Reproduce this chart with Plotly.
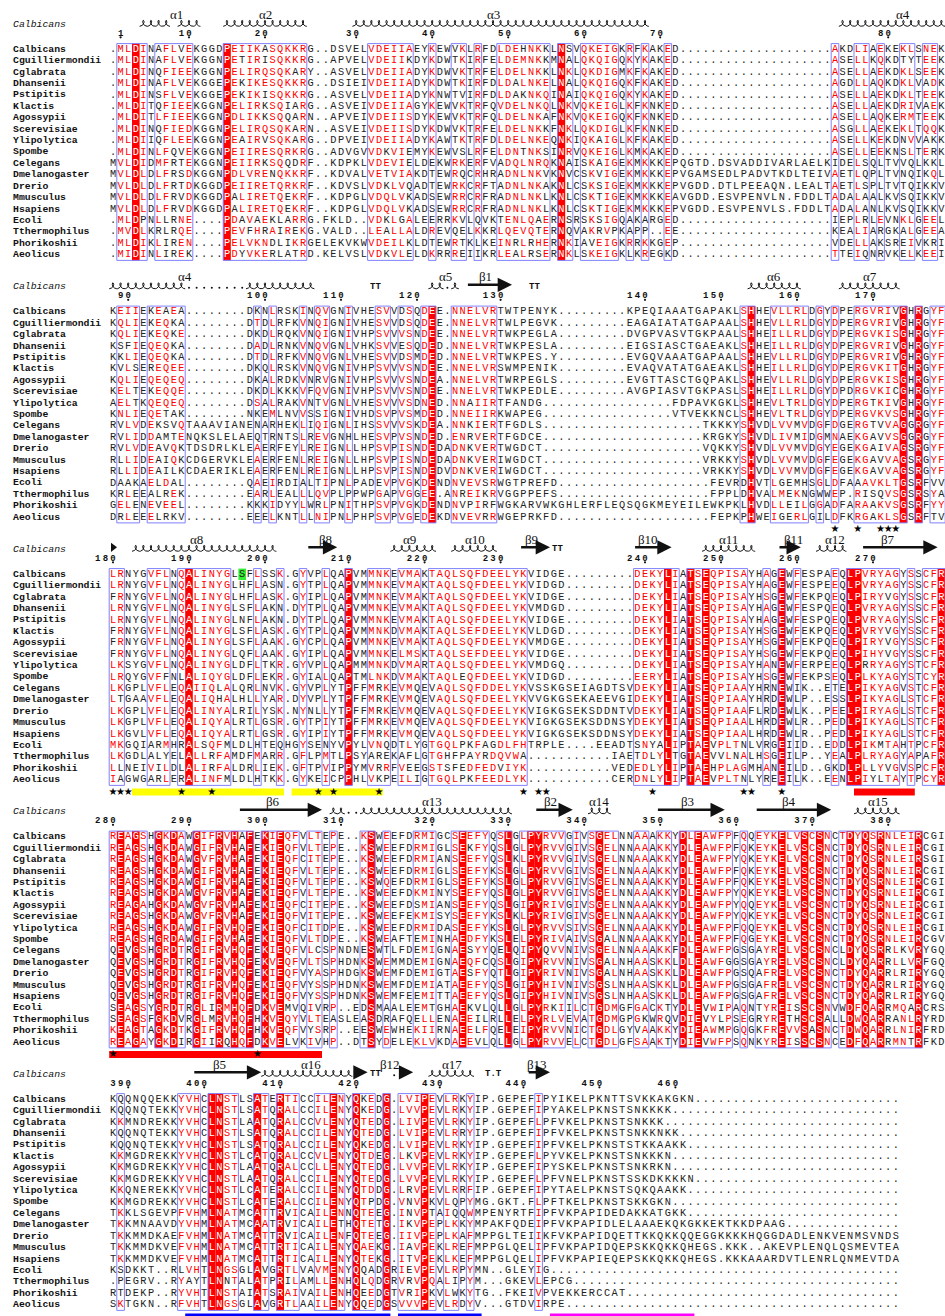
import plotly.graph_objects as go
from collections import Counter
import math

# ---------------- data ----------------
names = ["Calbicans", "Cguilliermondii", "Cglabrata", "Dhansenii", "Pstipitis", "Klactis",
         "Agossypii", "Scerevisiae", "Ylipolytica", "Spombe", "Celegans", "Dmelanogaster",
         "Drerio", "Mmusculus", "Hsapiens", "Ecoli", "Tthermophilus", "Phorikoshii", "Aeolicus"]

G5 = "....."
G8 = G5 + "..."
G9 = G5 + "...."
G11 = G5 + G5 + "."
G17 = G5 + G5 + G5 + ".."
G20 = G5 + G5 + G5 + G5
G21 = G20 + "."

block1 = [
    ".MLDINAFLVEKGGDPEIIKASQKKRG..DSVELVDEIIAEYKEWVK" + "LRFDLDEHNKKLNSVQKEIGKRFKAKED" + G20 + "AKDLIAEKEKLSNEK",
    ".MLDINAFLVEKGGNPETIRISQKKRG..APVELVDEIIKDYKDWTK" + "IRFELDEMNKKMNALQKQIGQKYKAKED" + G20 + "ASELLKQKDTYTEEK",
    ".MLDINQFIEEKGGNPELIRQSQKARY..ASVELVDEIIADYKDWVK" + "TRFELDELNKKLNKLQKDIGMKFKAKED" + G20 + "ASELLAEKDKLSEEK",
    ".MLDINAFLVEKGGEPEKIKESQKKRG..DSIEIVDEIIADYKDWTK" + "IRFDLDALNKELNALQKQIGQKFKAKED" + G20 + "AGDLLAQKDKLVADK",
    ".MLDINSFLVEKGGEPEKIKISQKKRG..ASVELVDEIIADYKNWTV" + "IRFDLDAKNKQINAIQKQIGQKYKAKED" + G20 + "ASELLAEKDKLTEEK",
    ".MLDITQFIEEKGGNPELIRKSQIARG..ASVEIVDEIIAGYKEWVK" + "TRFQVDELNKQLNKVQKEIGLKFKNKED" + G20 + "ASELLAEKDRIVAEK",
    ".MLDITLFIEEKGGNPDLIKKSQQARN..APVEIVDEIISDYKEWVK" + "TRFQLDELNKAFNKVQKEIGQKFKNKED" + G20 + "ASELLAQKERMTEEK",
    ".MLDINQFIEDKGGNPELIRQSQKARN..ASVEIVDEIISDYKDWVK" + "TRFELDELNKKFNKLQKDIGLKFKNKED" + G20 + "ASGLLAEKEKLTQQK",
    ".MLDIIQFLEEKGGNPEAIRVSQKARG..DPVEIVDEIIADYKAWTK" + "TRFDLDELNKEQNKIQKAIGLKFKAKED" + G20 + "ASELLKEKDNVVAKK",
    ".MLDINLFQVEKGGNPEIIRESQRKRG..ADVGVVDKVIEMYKEWVS" + "LRFELDNTNKSINRVQKEIGLKMKAKED" + G20 + "ASELLEEKNSLTERK",
    "MVLDIDMFRTEKGGNPEIIRKSQQDRF..KDPKLVDEVIELDEKWRK" + "ERFVADQLNRQKNAISKAIGEKMKKKEPQGTD.DSVADDIVARLAELKIDELSQLTVVQLKKL",
    "MVLDLDLFRSDKGGNPDLVRENQKKRF..KDVALVETVIAKDTEWRQ" + "CRHRADNLNKVKNVCSKVIGEKMKKKEPVGAMSEDLPADVTKDLTEIVAETLQPLTVNQIKQL",
    "MVLDLDLFRTDKGGDPEIIRETQRKRF..KDVSLVDKLVQADTEWRK" + "CRFTADNLNKAKNLCSKSIGEKMKKKEPVGDD.DTLPEEAQN.LEALTAETLSPLTVTQIKKV",
    "MVLDLDLFRVDKGGDPALIRETQEKRF..KDPGLVDQLVKADSEWRR" + "CRFRADNLNKLKNLCSKTIGEKMKKKEAVGDD.ESVPENVLN.FDDLTADALAALKVSQIKKV",
    "MVLDLDLFRVDKGGDPALIRETQEKRF..KDPGLVDQLVKADSEWRR" + "CRFRADNLNKLKNLCSKTIGEKMKKKEPVGDD.ESVPENVLS.FDDLTADALANLKVSQIKKV",
    ".MLDPNLLRNE....PDAVAEKLARRG.FKLD..VDKLGALEERRKV" + "LQVKTENLQAERNSRSKSIGQAKARGED" + G20 + "IEPLRLEVNKLGEEL",
    ".MVDLKRLRQE....PEVFHRAIREKG.VALD..LEALLALDREVQE" + "LKKRLQEVQTERNQVAKRVPKAPP..EE" + G20 + "KEALIARGKALGEEA",
    ".MLDIKLIREN....PELVKNDLIKRGELEKVKWVDEILKLDTEWRT" + "KLKEINRLRHERNKIAVEIGKRRKKGEP" + G20 + "VDELLAKSREIVKRI",
    ".MIDINLIREK....PDYVKERLATRD.KELVSLVDKVLELDKRRRE" + "IIKRLEALRSERNKLSKEIGKLKREGKD" + G20 + "TTEIQNRVKELKEEI",
]

block2 = [
    "KEIIEKEAEA" + G8 + "DKNLRSKINQVGNIVHESVVDSQDEE.NN" + "ELVRTWTPENYK" + G9 + "KPEQIAAATGAPAKLSHHEVLLRLDGYDPERGVRIVGHRGYF",
    "KQLIEKEQKA" + G8 + "DTDLRFKVNQIGNIVHESVVDSQDEE.NN" + "ELVRTWLPEGVK" + G9 + "EAGAIATATGAPAALSHHEVLLRLDGYDPERGVRIVGHRGYF",
    "KQLIEKEQKE" + G8 + "DKDLRQKVNQIGNIVHPSVVVSNDEE.NN" + "ELVRTWKPEGLA" + G9 + "DVGPVASVTGKPAALSHHEILLRLDGYDPERGVKISGHRGYF",
    "KSFIEQEQKA" + G8 + "DADLRNKVNQVGNLVHKSVVESQDED.NN" + "ELVRTWKPESLA" + G9 + "EIGSIASCTGAEAKLSHHEILLRLDGYDPERGVRIVGHRGYF",
    "KKLIEQEQKA" + G8 + "DTDLRFKVNQVGNLVHESVVDSMDED.NN" + "ELVRTWKPES.Y" + G9 + "EVGQVAAATGAPAALSHHEVLLRLDGYDPERGVRIVGHRGYF",
    "KVLSEREQEE" + G8 + "DKQLRSKVNQVGNIVHPSVVVSNDEE.NN" + "ELVRSWMPENIK" + G9 + "EVAQVATATGAEAKLSHHEILLRLDGYDPERGVKITGHRGYF",
    "KQLIEQEQEQ" + G8 + "DKALRDKVNRVGNIVHPSVVVSNDEA.NN" + "ELVRTWRPEGLS" + G9 + "EVGTTASCTGQPAKLSHHEVLLRLDGYDPERGVKISGHRGYF",
    "KELTEKEQQE" + G8 + "DKDLKKKVFQVGNIVHPSVVVSNDEE.NN" + "ELVRTWKPEDLE" + G9 + "AVGPIASVTGKPASLSHHEILLRLDGYDPDRGVKICGHRGYF",
    "AELTKQEQEQ" + G8 + "DSALRAKVNTVGNLVHESVVVSDNED.NN" + "AIIRTFANDG" + G17 + "FDPAVKGKLSHHEVLTRLDGYDPERGTKIVGHRGYF",
    "KNLIEQETAK" + G8 + "NKEMLNVVSSIGNIVHDSVPVSMDED.NN" + "EIIRKWAPEG" + G17 + "VTVEKKNCLSHHEVLTRLDGYDPERGVKVSGHRGYF",
    "RVLVDEKSVQTAAAVIANENARHEKLIQIGNLIHSSVVVSKDEA.NN" + "KIERTFGDLS" + G21 + "TKKKYSHVDLVVMVDGFDGERGTVVAGGRGYF",
    "RVLIDDAMTENQKSLELAEQTRNTSLREVGNHLHESVPVSNDED.EN" + "RVERTFGDCE" + G21 + "KRGKYSHVDLIVMIDGMNAEKGAVVSGGRGYF",
    "RVLVDEAVQKTDSDRLKLEAERFEYLREIGNLLHPSVPISNDEDADN" + "KVERTWGDCT" + G21 + "VQKKYSHVDLVVMVDGYEGEKGAIVAGSRGYF",
    "RLLIDEAIQKCDGERVKLEAERFENLREIGNLLHPSVPISNDEDADN" + "KVERIWGDCT" + G21 + "VRKKYSHVDLVVMVDGFEGEKGAVVAGSRGYF",
    "RLLIDEAILKCDAERIKLEAERFENLREIGNLLHPSVPISNDEDVDN" + "KVERIWGDCT" + G21 + "VRKKYSHVDLVVMVDGFEGEKGAVVAGSRGYF",
    "DAAKAELDAL" + G8 + "QAEIRDIALTIPNLPADEVPVGKDENDNV" + "EVSRWGTPREFD" + G20 + "FEVRDHVTLGEMHSGLDFAAAVKLTGSRFVV",
    "KRLEEALREK" + G8 + "EARLEALLLQVPLPPWPGAPVGGEE.ANR" + "EIKRVGGPPEFS" + G20 + "FPPLDHVALMEKNGWWEP.RISQVSGSRSYA",
    "GELENEVEEL" + G8 + "KKKIDYYLWRLPNITHPSVPVGKDENDNV" + "PIRFWGKARVWKGHLERFLEQSQGKMEYEILEWKPKLHVDLLEILGGADFARAAKVSGSRFYY",
    "DRLEEELRKV" + G8 + "EEELKNTLLNIPNLPHPSVPVGEDEKDNV" + "EVRRWGEPRKFD" + G20 + "FEPKPHWEIGERLGILDFKRGAKLSGSRFTV",
]

block3 = [
    "LRNYGVFLNQALINYGLSFLSSK.GYVPLQAPVMMNKEVMAKTAQLS" + "QFDEELYKVIDGE" + G9 + "DEKYLIATSEQPISAYHAGEWFESPAEQLPVRYAGYSSCFR",
    "LRNYGVFLNQALINYGLHFLASN.GYTPLQAPVMMNKEVMAKTAQLS" + "QFDEELYKVIDGD" + G9 + "DEKYLIATSEQPISAYHAGEWFESPEEQLPVRYAGYSSCFR",
    "FRNYGVFLNQALINYGLHFLASK.GYIPLQAPVMMNKEVMAKTAQLS" + "QFDEELYKVIDGE" + G9 + "DEKYLIATSEQPISAYHSGEWFEKPQEQLPIRYVGYSSCFR",
    "LRNYGVFLNQALINYGLSFLAKN.DYTPLQAPVMMNKEVMAKTAQLS" + "QFDEELYKVMDGD" + G9 + "DEKYLIATSEQPISAYHAGEWFESPQEQLPVRYAGYSSCFR",
    "LRNYGVFLNQALINYGLNFLAKN.DYTPLQAPVMMNKEVMAKTAQLS" + "QFDEELYKVIDGE" + G9 + "DEKYLIATSEQPISAYHAGEWFESPQEQLPVRYAGYSSCFR",
    "FRNYGVFLNQALINYGLSFLASK.GYTPLQAPVMMNKDVMAKTAQLS" + "EFDEELYKVLDGD" + G9 + "DEKYLIATSEQPISAYHSGEWFEKPQEQLPVRYVGYSSCFR",
    "FRNYGVFLNQALINYGLSFLAAK.GYCPLQAPVMMNKEVMAKTAQLS" + "QFDEELYKVMDGE" + G9 + "DEKYLIATSEQPISAYHSGEWFEKPQEQLPIRYVGYSSCFR",
    "FRNYGVFLNQALINYGLQFLAAK.GYIPLQAPVMMNKELMSKTAQLS" + "EFDEELYKVIDGE" + G9 + "DEKYLIATSEQPISAYHSGEWFEKPQEQLPIHYVGYSSCFR",
    "LKSYGVFLNQALINYGLDFLTKR.GYVPLQAPMMMNKDVMARTAQLS" + "QFDEELYKVMDGQ" + G9 + "DEKYLIATSEQPISAYHANEWFERPEEQLPRRYAGYSTCFR",
    "LRQYGVFFNLALIQYGLDFLEKR.GYIALQAPTMLNKDVMAKTAQLE" + "QFDEELYKVIDGD" + G9 + "EERYLIATSEQPISAYHSGEWFEKPSEQLPLKYAGYSTCYR",
    "LKGPLVFLEQAIIQLALQRLNVK.GYVPLYTPFFMRKEVMQEVAQLS" + "QFDDELYKVSSKGSEIAGDTSVDEKYLIATSEQPIAAYHRNEWIK..ETELPIKYAGVSTCFR",
    "LTGAAVFLEQALIQHALHLLYAR.DYVPLYTPFFMRKEVMQEVAQLS" + "QFDEELYKVVGKGSEKAEEVGIDEKYLIATSEQPIAAYHRDEWLP..ESSLPIKYAGLSTCFR",
    "LKGPLVFLEQALINYALRILYSK.NYNLLYTPFFMRKEVMQEVAQLS" + "QFDEELYKVIGKGSEKSDDNTVDEKYLIATSEQPIAAFLRDEWLK..PEELPIRYAGLSTCFR",
    "LKGPLVFLEQALIQYALRTLGSR.GYTPIYTPFFMRKEVMQEVAQLS" + "QFDEELYKVIGKGSEKSDDNSYDEKYLIATSEQPIAALHRDEWLR..PEDLPIKYAGLSTCFR",
    "LKGVLVFLEQALIQYALRTLGSR.GYIPIYTPFFMRKEVMQEVAQLS" + "QFDEELYKVIGKGSEKSDDNSYDEKYLIATSEQPIAALHRDEWLR..PEDLPIKYAGLSTCFR",
    "MKGQIARMHRALSQFMLDLHTEQHGYSENYVPYLVNQDTLYGTGQLP" + "KFAGDLFHTRPLE....EEADTSNYALIPTAEVPLTNLVRGEIID..EDDLPIKMTAHTPCFR",
    "LKGDLALYELALLRFAMDFMARR.GFLPMTLPSYAREKAFLGTGHFP" + "AYRDQVWA" + G11 + "IAETDLYLTGTAEVVLNALHSGEILP..YEALPLRYAGYAPAFR",
    "LLNEIVILDLALIRFALDRLIEK.GFTPVIPPYMVRRFVEEGSTSFE" + "DFEDVIYK" + G11 + "VEDEDLYLIPTAEHPLAGMHANEILD..GKDLPLLYVGVSPCFR",
    "IAGWGARLERALINFMLDLHTKK.GYKEICPPHLVKPEILIGTGQLP" + "KFEEDLYK" + G11 + "CERDNLYLIPTAEVPLTNLYREEILK..EENLPIYLTAYTPCYR",
]

block4 = [
    "REAGSHGKDAWGIFRVHAFEKIEQFVLTEPE..KSWEEFDRMIGCSE" + "EFYQSLGLPYRVVGIVSGELNNAAAKKYDLEAWFPFQQEYKELVSCSNCTDYQSRNLEIRCGI",
    "REAGSHGKDAWGIFRVHAFEKIEQFVLTEPE..KSWEEFDRMIGLSE" + "KFYQSLGLPYRVVGIVSGELNNAAAKKYDLEAWFPFQKEYKELVSCSNCTDYQSRNLEIRCGI",
    "REAGSHGKDAWGVFRVHAFEKIEQFCITEPE..KSWEEFDRMIANSE" + "EFYQSLKLPYRVVGIVSGELNNAAAKKYDLEAWFPYQKEYKELVSCSNCTDYQSRNLEIRSGI",
    "REAGSHGKDAWGIFRVHAFEKIEQFVLTEPE..KSWEEFDRMIGLSE" + "EFYKSLGLPYRVVGIVSGELNNAAAKKYDLEAWFPFQKEYKELVSCSNCTDYQSRNLEIRCGI",
    "REAGSHGKDAWGIFRVHAFEKIEQFVLTEPE..KSWQEFDRMIGLSE" + "EFYKSLGLPYRVVGIVSGELNNAAAKKYDLEAWFPFQKEYKELVSCSNCTDYQSRNLEIRCGI",
    "REAGSHGKDAWGVFRVHAFEKIEQFVLTEPE..KSWEEFDKMINYSE" + "EFYQSLGLPYRVVGIVSGELNNAAAKKYDLEAWFPYQKEYKELVSCSNCTDYQSRNLEIRCGI",
    "REAGAHGKDAWGVFRVHAFEKIEQFCITEPE..KSWEEFDSMIANSE" + "EFYQSLGIPYRIVGIVSGELNNAAAKKYDLEAWFPYQQEYKELVSCSNCTDYQSRNLEIRCGI",
    "REAGSHGKDAWGVFRVHAFEKIEQFVITEPE..KSWEEFEKMISYSE" + "EFYKSLKLPYRIVGIVSGELNNAAAKKYDLEAWFPYQKEYKELVSCSNCTDYQSRNLEIRCGI",
    "REAGSHGKDAWGIFRVHQFEKIEQFCITDPE..KSWEEFDRMIDASE" + "EFYKSLGLPYRVVSIVSGELNNAAAKKYDLEAWFPFQQEYKELVSCSNCTDYQSRNLEIRCGI",
    "REAGSHGRDAWGIFRVHAFEKIEQFVLTDPE..KSWEAFTEMINHAE" + "DFYKSLELPYRIVAIVSGALNNAAAKKYDLEAWFPFQGEYKELVSCSNCTDYQSRNLEIRCGV",
    "QEVGSHGRDTRGIFRVHQFEKIEQFVLCSPNDNESWTLFDEMIGNAE" + "SYYQELQIPYQVVNIVSGELNNAAAKKFDLEAWFPGSGAYRELVSCSNCLDYQSRRLKVRYGQ",
    "QEVGSHGRDTRGIFRVHQFEKVEQFVLTSPHDNKSWEMMDEMIGNAE" + "QFCQSLGIPYRVVNIVSGALNHAASKKLDLEAWFGGSGAYRELVSCSNCLDYQARRLLVRFGQ",
    "QEVGSHGRDTRGIFRVHQFEKIEQFVYASPHDGKSWEMFDEMIGTAE" + "SFYQTLGIPYRIVNIVSGALNHAASKKLDLEAWFPGSQAFRELVSCSNCTDYQARRLRIRYGQ",
    "QEVGSHGRDTRGIFRVHQFEKIEQFVYSSPHDNKSWEMFDEMIATAE" + "EFYQSLGIPYHIVNIVSGSLNHAASKKLDLEAWFPGSGAFRELVSCSNCTDYQARRLRIRYGQ",
    "QEVGSHGRDTRGIFRVHQFEKIEQFVYSSPHDNKSWEMFEEMITTAE" + "EFYQSLGIPYHIVNIVSGSLNHAASKKLDLEAWFPGSGAFRELVSCSNCTDYQARRLRIRYGQ",
    "SEAGSYGRDTRGLIRMHQFDKVEMVQIVRP..EDSMAALEEMTGHAE" + "KVLQLLGLPYRKIILCTGDMGFGACKTYDLEVWIPAQNTYREISSCSNVWDFQARRMQARCRS",
    "SEAGSFGKDVRGLMRVHQFHKVEQYVLTEASLEASDRAFQELLENAE" + "EILRLLELPYRLVEVATGDMGPGKWRQVDIEVYLPSEGRYRETHSCSALLDWQARRANLRYRD",
    "KEAGTAGKDTKGIFRVHQFHKVEQFVYSRP..EESWEWHEKIIRNAE" + "ELFQELEIPYRVVNICTGDLGYVAAKKYDIEAWMPGQGKFREVVSASNCTDWQARRLNIRFRD",
    "REAGAYGKDIRGIIRQHQFDKVELVKIVHP..DTSYDELEKLVKDAE" + "EVLQLLGLPYRVVELCTGDLGFSAAKTYDIEVWFPSQNKYREISSCSNCEDFQARRMNTRFKD",
]

block5 = [
    "KQQNQQEKKYVHCLNSTLSATERTICCILENYQKEDG.LVIPEVLRK" + "YIP.GEPEFIPYIKELPKNTTSVKKAKGKN",
    "KQQNQTEKKYVHCLNSTLSATQRALCCILENYQKEDG.LVVPEVLRK" + "YIP.GEPEFIPYAKELPKNSTSNKKKK",
    "KKMNDREKKYVHCLNSTLAATQRALCCVLENYQTEDG.LIVPEVLRK" + "YIP.GEPEFLPFVKELPKNSTSNKKK",
    "KQQNQTEKKYVHCLNSTLSATQRALCCILENYQTEDG.LVIPEVLRR" + "YIP.GEPEFIPFVKELPKNSTSNKKNKK",
    "KQQNQTEKKYVHCLNSTLSATQRALCCILENYQKEDG.LVIPEVLRK" + "YIP.GEPEFIPFVKELPKNSTSTKKAAKK",
    "KKMGDREKKYVHCLNSTLCATQRALCCVLENYQTDEG.LKVPEVLRK" + "YIP.GEPEFLPYVKELPKNSTSNKKKN",
    "KKMGDREKKYVHCLNSTLAATQRALCCLLENYQTEDG.LVVPEVLRK" + "YIP.GEPEFIPYSKELPKNSTSNKRKN",
    "KKMGDREKKYVHCLNSTLAATQRALCCILENYQTEDG.LVVPEVLRK" + "YIP.GEPEFLPFVNELPKNSTSSKDKKKKN",
    "KKQNEREKKYVHCLNSTLCATERALCCILENYQTDDG.LRVPEVLRR" + "FIP.GEPEFIPYTAELPKNSTSQKQAAKK",
    "KKMGDREKKYVHCLNSTLCATERALCCILENYQTPDG.VNVPKVLQP" + "YMG.GKT.FLPFTKELPKNSTSKKGKN",
    "TKKLSGEVPFVHMLNATMCATTRVICAILENNQTEEG.INVPTAIQQ" + "WMPENYRTFIPFVKPAPIDEDAKKATGKK",
    "TKKMNAAVDYVHMLNATMCAATRVICAILETHQTETG.IKVPEPLKK" + "YMPAKFQDEIPFVKPAPIDLELAAAEKQKGKKEKTKKDPAAG",
    "TKKMMDKAEFVHMLNATMCATTRVICAILENFQTEEG.IIVPEPLKA" + "FMPPGLTEIIKFVKPAPIDQETTKKQKKQQEGGKKKKHQGGDADLENKVENMSVNDS",
    "TKKMMDKVEFVHMLNATMCATTRTICAILENYQAEKG.IAVPEKLRE" + "FMPPGLQELIPFVKPAPIDQEPSKKQKKQHEGS.KKK..AKEVPLENQLQSMEVTEA",
    "TKKMMDKVEFVHMLNATMCATTRTICAILENYQTEKG.ITVPEKLKE" + "FMPPGLQELIPFVKPAPIEQEPSKKQKKQHEGS.KKKAAARDVTLENRLQNMEVTDA",
    "KSDKKT..RLVHTLNGSGLAVGRTLVAVMENYQQADGRIEVPEVLRP" + "YMN..GLEYIG",
    ".PEGRV..RYAYTLNNTALATPRILAMLLENHQLQDGRVRVPQALIP" + "YM...GKEVLEPCG",
    "RTDEKP..RYVHTLNSTAIATSRAIVAILENHQEEDGTVRIPKVLWK" + "YTG..FKEIVPVEKKERCCAT",
    "SKTGKN..RFVHTLNGSGLAVGRTLAAILENYQQEDGSVVVPEVLRD" + "YV...GTDVIRPE",
]
block5 = [s.ljust(104, ".") for s in block5]

blocks = [block1, block2, block3, block4, block5]
block_widths = [110, 110, 110, 110, 104]

# similarity frames (first col, last col)
frames_1 = [(1, 4), (6, 10), (15, 25), (34, 39), (42, 42), (45, 46), (48, 48), (51, 57), (59, 60),
            (62, 66), (68, 68), (70, 70), (73, 73), (95, 95), (98, 99), (101, 101), (104, 105), (107, 108)]
frames_2 = [(1, 3), (5, 9), (19, 19), (21, 21), (25, 25), (27, 28), (31, 31), (35, 36), (38, 39),
            (41, 42), (45, 50), (83, 84), (87, 91), (93, 93), (95, 95), (98, 104), (106, 106), (108, 109)]
frames_3 = [(0, 1), (5, 7), (9, 15), (19, 19), (22, 22), (25, 25), (28, 28), (31, 31), (34, 36),
            (38, 40), (42, 54), (69, 74), (76, 83), (86, 86), (88, 88), (90, 90), (95, 95), (97, 103),
            (105, 105), (107, 109)]
frames_4 = [(0, 4), (6, 9), (11, 18), (20, 24), (26, 27), (29, 29), (33, 34), (36, 36), (40, 42),
            (45, 49), (51, 52), (54, 59), (61, 61), (63, 66), (69, 70), (72, 73), (75, 81), (83, 83),
            (85, 94), (96, 106)]
frames_5 = [(1, 1), (9, 11), (13, 16), (19, 20), (22, 24), (27, 30), (32, 34), (36, 36), (38, 42),
            (44, 45), (47, 47), (56, 56)]
frames = [frames_1, frames_2, frames_3, frames_4, frames_5]

# secondary structure (block index, first col, last col)
helix_segments = [(0, 4, 7), (0, 9, 11), (0, 15, 25), (0, 32, 70), (0, 96, 109),
                  (1, 0, 9), (1, 18, 26), (1, 42, 43), (1, 45, 45), (1, 84, 90), (1, 96, 103),
                  (2, 3, 21), (2, 37, 42), (2, 45, 50), (2, 78, 84), (2, 93, 96),
                  (3, 29, 30), (3, 33, 52), (3, 63, 65), (3, 98, 103),
                  (4, 20, 31), (4, 42, 47)]
ss_dots = [(1, 10, 17), (1, 44, 44), (3, 31, 32), (4, 37, 37)]
strands = [(1, 47, 52), (2, 26, 29), (2, 54, 57), (2, 69, 73), (2, 88, 90), (2, 99, 108),
           (3, 17, 27), (3, 56, 60), (3, 72, 80), (3, 85, 94),
           (4, 11, 19), (4, 32, 33), (4, 38, 39), (4, 55, 57)]
ss_labels = [(0, 8.4, "α1"), (0, 20, "α2"), (0, 50, "α3"), (0, 104, "α4"),
             (1, 9.5, "α4"), (1, 43.7, "α5"), (1, 49, "β1"), (1, 87, "α6"), (1, 99.6, "α7"),
             (2, 11, "α8"), (2, 28, "β8"), (2, 39, "α9"), (2, 47.6, "α10"), (2, 55, "β9"),
             (2, 70.4, "β10"), (2, 81, "α11"), (2, 89.5, "β11"), (2, 95, "α12"), (2, 102, "β7"),
             (3, 21, "β6"), (3, 42, "α13"), (3, 57.5, "β2"), (3, 64, "α14"), (3, 75.6, "β3"),
             (3, 89, "β4"), (3, 100.7, "α15"),
             (4, 14, "β5"), (4, 26, "α16"), (4, 36.4, "β12"), (4, 44.6, "α17"), (4, 55.8, "β13")]
turns = [(1, 34.5, "TT"), (1, 55.5, "TT"), (2, 58.5, "TT"), (4, 34.5, "TT"), (4, 50, "T.T")]

# markers under blocks
stars = [(1, 95), (1, 98), (1, 101), (1, 102), (1, 103),
         (2, 0), (2, 1), (2, 2), (2, 9), (2, 13), (2, 27), (2, 29), (2, 35), (2, 54), (2, 56),
         (2, 57), (2, 71), (2, 83), (2, 84), (2, 88),
         (3, 0), (3, 19)]
bars = [(2, 3, 22, "#FFFF00"), (2, 24, 35, "#FFFF00"), (2, 98, 105, "#FF0000"),
        (3, 0, 27, "#FF0000"),
        (4, 10, 36, "#0000FF"), (4, 38, 48, "#0000FF"), (4, 58, 76, "#FF00FF")]
green_cells = [(2, 0, 17)]

# ---------------- checks ----------------
for b, rows in enumerate(blocks):
    for r, s in enumerate(rows):
        if len(s) != block_widths[b]:
            raise ValueError(f"block {b+1} row {names[r]} length {len(s)} != {block_widths[b]}")

# ---------------- layout constants (page pixel units) ----------------
X0 = 113.0      # page x of alignment column 0
CW = 7.6        # column pitch
RH = 11.41      # row pitch
W, H = 945, 1316


def row0(b):
    return 49.3 + b * 262.5


GROUP = {}
for i, g in enumerate(["ILVM", "FYW", "KRH", "DENQ", "STAG", "P", "C"]):
    for ch in g:
        GROUP[ch] = i

RED = "#FF0000"
FRAME = "#8080FF"
BLACK = "#222222"

fig = go.Figure()
shapes = []

txt = {"k": ([], [], []), "r": ([], [], []), "w": ([], [], [])}
green_set = set(green_cells)

for b, rows in enumerate(blocks):
    y0 = row0(b)
    ytop = y0 - RH / 2
    ybot = y0 + 18 * RH + RH / 2
    in_frame = set()
    for (s, e) in frames[b]:
        for c in range(s, e + 1):
            in_frame.add(c)
    for c in range(block_widths[b]):
        col = [r[c] for r in rows]
        res = [ch for ch in col if ch != "."]
        identical = len(res) == len(col) and len(set(res)) == 1
        g = None
        if identical:
            shapes.append(dict(type="rect", xref="x", yref="y", x0=c - 0.5, x1=c + 0.5, y0=ytop, y1=ybot,
                               fillcolor=RED, line=dict(width=0), layer="below"))
        elif c in in_frame and res:
            g = Counter(GROUP.get(ch, -1) for ch in res).most_common(1)[0][0]
        for r, ch in enumerate(col):
            y = y0 + r * RH
            if (b, r, c) in green_set:
                shapes.append(dict(type="rect", xref="x", yref="y", x0=c - 0.5, x1=c + 0.5,
                                   y0=y - RH / 2, y1=y + RH / 2, fillcolor="#33EE33",
                                   line=dict(width=0), layer="below"))
                key = "k"
            elif identical:
                key = "w"
            elif g is not None and ch != "." and GROUP.get(ch, -2) == g:
                key = "r"
            else:
                key = "k"
            txt[key][0].append(c)
            txt[key][1].append(y)
            txt[key][2].append(ch)
    for (s, e) in frames[b]:
        shapes.append(dict(type="rect", xref="x", yref="y", x0=s - 0.5, x1=e + 0.5, y0=ytop, y1=ybot,
                           line=dict(color=FRAME, width=1), fillcolor="rgba(0,0,0,0)", layer="below"))

for key, color in (("k", BLACK), ("r", RED), ("w", "#FFFFFF")):
    xs, ys, ts = txt[key]
    fig.add_trace(go.Scatter(x=xs, y=ys, text=ts, mode="text", textposition="middle center",
                             textfont=dict(family="Liberation Mono", size=10.3, color=color),
                             hoverinfo="skip", showlegend=False, cliponaxis=False))

# names
annotations = []
name_x = (12 - X0) / CW
for b in range(5):
    y0 = row0(b)
    for r, nm in enumerate(names):
        annotations.append(dict(x=name_x, y=y0 + r * RH, xref="x", yref="y", text="<b>" + nm + "</b>",
                                showarrow=False, xanchor="left", yanchor="middle", borderpad=0,
                                font=dict(family="Liberation Mono", size=9.8, color="#111111")))
    annotations.append(dict(x=name_x, y=y0 - 25, xref="x", yref="y", text="<i>Calbicans</i>",
                            showarrow=False, xanchor="left", yanchor="middle", borderpad=0,
                            font=dict(family="Liberation Mono", size=9.8, color="#111111")))

# ruler from Calbicans numbering
dig_x, dig_y, dig_t, tick_x, tick_y = [], [], [], [], []
n = 0
for b, rows in enumerate(blocks):
    y0 = row0(b)
    for c, ch in enumerate(rows[0]):
        if ch == ".":
            continue
        n += 1
        if n == 1 or n % 10 == 0:
            s = str(n)
            for k, d in enumerate(s):
                dig_x.append(c - (len(s) - 1 - k))
                dig_y.append(y0 - 16)
                dig_t.append(d)
            tick_x.append(c)
            tick_y.append(y0 - 12)
fig.add_trace(go.Scatter(x=dig_x, y=dig_y, text=dig_t, mode="text", textposition="middle center",
                         textfont=dict(family="Liberation Mono", size=9, color="#111111", weight="bold"),
                         hoverinfo="skip", showlegend=False))
fig.add_trace(go.Scatter(x=tick_x, y=tick_y, mode="markers", marker=dict(size=2.2, color="#111111"),
                         hoverinfo="skip", showlegend=False))

# helices
hx, hy = [], []
A = 0.3
hh = 3.0
for (b, s, e) in helix_segments:
    yc = row0(b) - 26
    nloop = e - s + 1
    steps = nloop * 24
    for i in range(steps + 1):
        u = i / 24.0
        hx.append(s - 0.5 + u + A * math.sin(2 * math.pi * u))
        hy.append(yc + hh * math.cos(2 * math.pi * u))
    hx.append(None)
    hy.append(None)
fig.add_trace(go.Scatter(x=hx, y=hy, mode="lines", line=dict(color="#111111", width=1),
                         hoverinfo="skip", showlegend=False))

# dotted links
dx, dy = [], []
for (b, s, e) in ss_dots:
    for c in range(s, e + 1):
        dx.append(c)
        dy.append(row0(b) - 24)
fig.add_trace(go.Scatter(x=dx, y=dy, mode="markers", marker=dict(size=2, color="#111111"),
                         hoverinfo="skip", showlegend=False))

# strands
for (b, s, e) in strands:
    ya = row0(b) - 27
    annotations.append(dict(x=e + 0.5, y=ya, ax=s - 0.5, ay=ya, xref="x", yref="y", axref="x", ayref="y",
                            text="", showarrow=True, arrowhead=2, arrowsize=1.1, arrowwidth=2.6,
                            arrowcolor="#111111", standoff=0, startstandoff=0))
fig.add_trace(go.Scatter(x=[0], y=[row0(2) - 27], mode="markers",
                         marker=dict(symbol="triangle-right", size=8, color="#111111"),
                         hoverinfo="skip", showlegend=False))

for (b, c, lab) in ss_labels:
    annotations.append(dict(x=c, y=row0(b) - 35, xref="x", yref="y", text=lab, showarrow=False,
                            xanchor="center", yanchor="middle",
                            font=dict(family="Liberation Serif", size=13, color="#111111")))
for (b, c, lab) in turns:
    annotations.append(dict(x=c, y=row0(b) - 25, xref="x", yref="y", text="<b>" + lab + "</b>",
                            showarrow=False, xanchor="center", yanchor="middle",
                            font=dict(family="Liberation Mono", size=9, color="#111111")))

# bars and stars below blocks
for (b, s, e, colr) in bars:
    yb = row0(b) + 18 * RH + 12.3
    shapes.append(dict(type="rect", xref="x", yref="y", x0=s - 0.5, x1=e + 0.5, y0=yb - 3.5, y1=yb + 3.5,
                       fillcolor=colr, line=dict(width=0), layer="below"))
sx = [c for (b, c) in stars]
sy = [row0(b) + 18 * RH + 12.6 for (b, c) in stars]
fig.add_trace(go.Scatter(x=sx, y=sy, text=["★"] * len(sx), mode="text", textposition="middle center",
                         textfont=dict(family="DejaVu Sans", size=10, color="#000000"),
                         hoverinfo="skip", showlegend=False))

fig.update_layout(width=W, height=H, margin=dict(l=0, r=0, t=0, b=0),
                  paper_bgcolor="white", plot_bgcolor="white",
                  shapes=shapes, annotations=annotations, showlegend=False)
fig.update_xaxes(range=[-X0 / CW, (W - X0) / CW], visible=False, fixedrange=True)
fig.update_yaxes(range=[H, 0], visible=False, fixedrange=True)
fig.write_html("out.html", config={"displayModeBar": False},
               post_script="document.body.style.margin='0';document.body.style.overflow='hidden';")
